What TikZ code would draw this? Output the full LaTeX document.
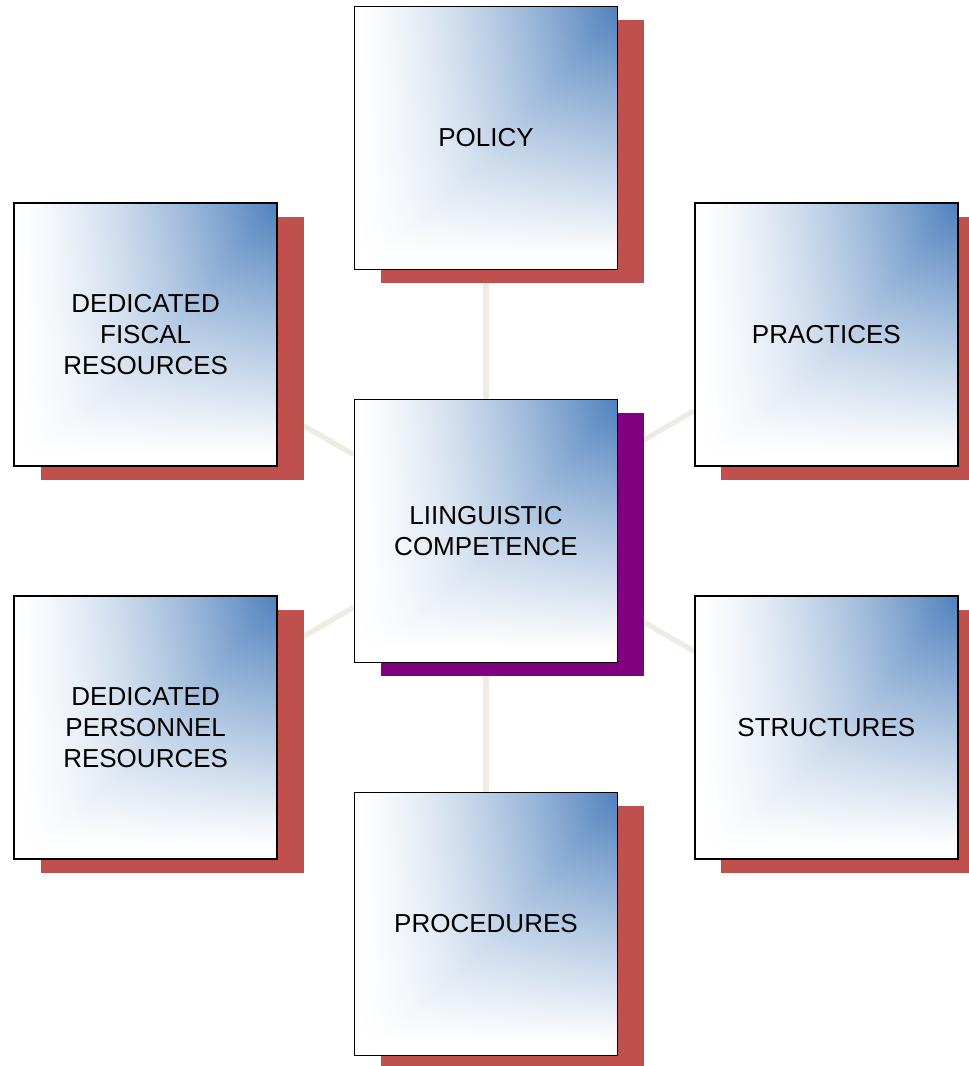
\documentclass[tikz,border=0pt]{standalone}
\usepackage{fontspec}
\setmainfont{Liberation Sans}
\usetikzlibrary{shadows,backgrounds}

\definecolor{shadowred}{RGB}{192,80,77}
\definecolor{shadowpurple}{RGB}{128,0,128}
\definecolor{linkgray}{RGB}{238,236,225}

% blue in the top right corner, fading to white towards the left and bottom
\pgfdeclarefunctionalshading{cornerfade}{\pgfpointorigin}{\pgfpoint{100bp}{100bp}}{}{
  75 exch sub 50 div 1.05 mul 1 exch sub dup abs add 2 div
  exch 25 sub 50 div dup abs add 2 div 1.35 exp
  2 copy sub abs 3 1 roll add
  2 copy add 2 div 3 1 roll exch sub 2 div
  exch 0.35 exp mul
  dup 0.69 mul 1 exch sub exch
  dup 0.494 mul 1 exch sub exch
  0.259 mul 1 exch sub
}

\begin{document}
\begin{tikzpicture}

\def\rad{7.86cm}
\def\angdist{60}
\def\posa{90}
\def\boxsize{5.26cm}

\tikzset{tile/.style = {draw, line width=1pt, shading=cornerfade, minimum size=\boxsize, inner sep=0pt, align=center, font=\fontsize{14.8}{17.6}\selectfont}}
\tikzset{block/.style = {tile, general shadow={fill=shadowred, shadow xshift=0.53cm, shadow yshift=-0.27cm}}}
\tikzset{hub/.style = {tile, general shadow={fill=shadowpurple, shadow xshift=0.53cm, shadow yshift=-0.27cm}}}
\tikzset{link/.style = {draw=linkgray, line width=3pt}}

\useasboundingbox (-9.72,-10.7) rectangle (9.66,10.62);

\node[hub] (C1) at (0,0) {LIINGUISTIC\\COMPETENCE};
\path (C1) node[block] (C11) at +(\posa:\rad) {POLICY};
\path (C1) node[block] (C12) at +(\posa-\angdist:\rad) {PRACTICES};
\path (C1) node[block] (C13) at +(\posa-2*\angdist:\rad) {STRUCTURES};
\path (C1) node[block] (C14) at +(\posa-3*\angdist:\rad) {PROCEDURES};
\path (C1) node[block] (C15) at +(\posa-4*\angdist:\rad) {DEDICATED\\PERSONNEL\\RESOURCES};
\path (C1) node[block] (C16) at +(\posa-5*\angdist:\rad) {DEDICATED\\FISCAL\\RESOURCES};

\begin{scope}[on background layer]
\foreach \n in {1,...,6}
  \draw[link] (C1) -- (C1\n);
\end{scope}

\end{tikzpicture}
\end{document}
